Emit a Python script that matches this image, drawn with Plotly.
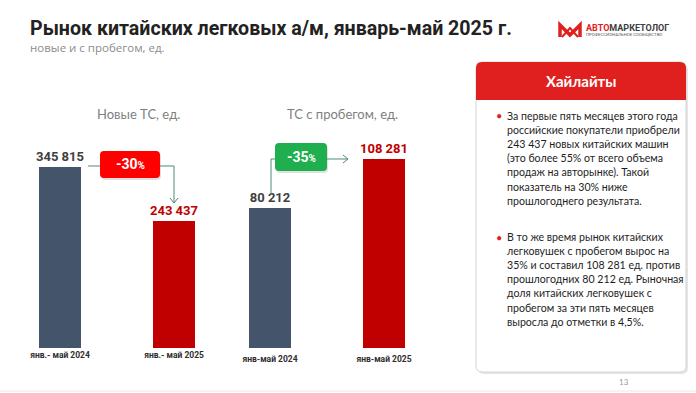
import plotly.graph_objects as go

W, H = 696, 393

# ---------------- data ----------------
cats_new = ["янв.- май 2024", "янв.- май 2025"]
vals_new = [345815, 243437]
cats_used = ["янв-май 2024", "янв-май 2025"]
vals_used = [80212, 108281]
change_labels = ["-30", "-35"]
panel_titles = ["Новые ТС, ед.", "ТС с пробегом, ед."]
title = "Рынок китайских легковых а/м, январь-май 2025 г."
subtitle = "новые и с пробегом, ед."
hl_title = "Хайлайты"
hl_par1 = ["За первые пять месяцев этого года",
           "российские покупатели приобрели",
           "243 437 новых китайских машин",
           "(это более 55% от всего объема",
           "продаж на авторынке). Такой",
           "показатель на 30% ниже",
           "прошлогоднего результата."]
hl_par2 = ["В то же время рынок китайских",
           "легковушек с пробегом вырос на",
           "35% и составил 108 281 ед. против",
           "прошлогодних 80 212 ед. Рыночная",
           "доля китайских легковушек с",
           "пробегом за эти пять месяцев",
           "выросла до отметки в 4,5%."]

# ---------------- styles ----------------
C_DARK = "#44546A"
C_RED = "#C00000"
LBL_COLORS = ["#404040", "#C00000"]
BADGE_RED = "#FF0000"
BADGE_GREEN = "#1FAF4F"
CONN = "#4E8A74"
HL_RED = "#E0201F"


def P(x, y):
    return x / W, 1 - y / H


def fx(x):
    return x / W


def fy(y):
    return 1 - y / H


def rrect(x0, y0, x1, y1, r, top_only=False):
    def pt(x, y):
        a, b = P(x, y)
        return f"{a:.5f},{b:.5f}"
    if top_only:
        return (f"M {pt(x0, y1)} L {pt(x0, y0 + r)} Q {pt(x0, y0)} {pt(x0 + r, y0)} "
                f"L {pt(x1 - r, y0)} Q {pt(x1, y0)} {pt(x1, y0 + r)} L {pt(x1, y1)} Z")
    return (f"M {pt(x0 + r, y0)} L {pt(x1 - r, y0)} Q {pt(x1, y0)} {pt(x1, y0 + r)} "
            f"L {pt(x1, y1 - r)} Q {pt(x1, y1)} {pt(x1 - r, y1)} L {pt(x0 + r, y1)} "
            f"Q {pt(x0, y1)} {pt(x0, y1 - r)} L {pt(x0, y0 + r)} Q {pt(x0, y0)} {pt(x0 + r, y0)} Z")


def poly(points):
    s = []
    for i, (x, y) in enumerate(points):
        a, b = P(x, y)
        s.append(("M " if i == 0 else "L ") + f"{a:.5f},{b:.5f}")
    return " ".join(s)


fig = go.Figure()

bar_w = 42 / 114
txt_font = dict(family="Roboto, Arial, sans-serif", size=13, color=LBL_COLORS)

fig.add_trace(go.Bar(
    x=[0, 1], y=vals_new, width=bar_w, marker=dict(color=[C_DARK, C_RED], line_width=0),
    texttemplate="<b>%{y:,}</b>", textposition="outside", textfont=txt_font,
    constraintext="none", cliponaxis=False, xaxis="x", yaxis="y", hoverinfo="skip"))
fig.add_trace(go.Bar(
    x=[0, 1], y=vals_used, width=bar_w, marker=dict(color=[C_DARK, C_RED], line_width=0),
    texttemplate="<b>%{y:,}</b>", textposition="outside", textfont=txt_font,
    constraintext="none", cliponaxis=False, xaxis="x2", yaxis="y2", hoverinfo="skip"))

ydom = [fy(348), fy(130)]
tickfont = dict(family="Roboto, Arial, sans-serif", size=8.5, color="#2E2E2E")
common_x = dict(range=[-0.377, 1.377], tickvals=[0, 1], showgrid=False, zeroline=False,
                showline=False, ticks="", tickfont=tickfont, automargin=False, fixedrange=True)

shapes = []
annos = []

# highlights box
shapes.append(dict(type="path", xref="paper", yref="paper", path=rrect(478, 64, 688, 374, 6),
                   fillcolor="rgba(0,0,0,0.10)", line=dict(width=0), layer="below"))
shapes.append(dict(type="path", xref="paper", yref="paper", path=rrect(476, 62, 686, 372, 6),
                   fillcolor="white", line=dict(color="#D4D4D4", width=1), layer="below"))
shapes.append(dict(type="path", xref="paper", yref="paper", path=rrect(476, 62, 686, 100, 6, top_only=True),
                   fillcolor=HL_RED, line=dict(width=0), layer="below"))

# badges
for (x0, y0, x1, y1, col) in [(100, 151, 160, 178, BADGE_RED), (275, 143, 327, 171, BADGE_GREEN)]:
    shapes.append(dict(type="path", xref="paper", yref="paper", path=rrect(x0 + 1, y0 + 2, x1 + 1, y1 + 2, 4),
                       fillcolor="rgba(0,0,0,0.12)", line=dict(width=0)))
    shapes.append(dict(type="path", xref="paper", yref="paper", path=rrect(x0, y0, x1, y1, 4),
                       fillcolor=col, line=dict(width=0)))

# connectors
conn_line = dict(color=CONN, width=1)
for pts in [[(88, 166), (100, 166)],
            [(160, 166), (174, 166), (174, 203)],
            [(170, 198), (174, 203), (178, 198)],
            [(271, 195), (271, 159), (275, 159)],
            [(327, 159), (348, 159)],
            [(343, 155), (348, 159), (343, 163)]]:
    shapes.append(dict(type="path", xref="paper", yref="paper", path=poly(pts), line=conn_line))

# logo icon (stylised M)
shapes.append(dict(type="path", xref="paper", yref="paper",
                   path=poly([(560, 37), (560, 25), (570, 35), (580, 25), (580, 37)]),
                   line=dict(color=HL_RED, width=3.5)))
shapes.append(dict(type="path", xref="paper", yref="paper",
                   path=poly([(562, 37), (570, 28), (578, 37)]),
                   line=dict(color=HL_RED, width=2)))

# bottom slide edge
shapes.append(dict(type="line", xref="paper", yref="paper", x0=0, x1=1, y0=fy(391), y1=fy(391),
                   line=dict(color="#E8E8E8", width=1)))

# title / subtitle
annos.append(dict(x=fx(28), y=fy(29), xref="paper", yref="paper", xanchor="left", yanchor="middle",
                  text=f"<b>{title}</b>", showarrow=False,
                  font=dict(family="Roboto, Arial, sans-serif", size=19.6, color="#222222")))
annos.append(dict(x=fx(28), y=fy(48), xref="paper", yref="paper", xanchor="left", yanchor="middle",
                  text=subtitle, showarrow=False,
                  font=dict(family="Open Sans, sans-serif", size=11.5, color="#8C8C8C")))

# logo text
annos.append(dict(x=fx(584), y=fy(28), xref="paper", yref="paper", xanchor="left", yanchor="middle",
                  text=f"<b><span style='color:{HL_RED}'>АВТО</span>МАРКЕТОЛОГ</b>", showarrow=False,
                  font=dict(family="Roboto, Arial, sans-serif", size=9, color="#404040")))
annos.append(dict(x=fx(584), y=fy(35), xref="paper", yref="paper", xanchor="left", yanchor="middle",
                  text="ПРОФЕССИОНАЛЬНОЕ СООБЩЕСТВО", showarrow=False,
                  font=dict(family="Roboto, Arial, sans-serif", size=4.3, color="#555555")))

# panel titles
for cx, t in zip([138, 342], panel_titles):
    annos.append(dict(x=fx(cx), y=fy(114), xref="paper", yref="paper", xanchor="center", yanchor="middle",
                      text=t, showarrow=False,
                      font=dict(family="Lato, sans-serif", size=13, color="#7F7F7F")))

# badge texts
for (cx, cy), lab in zip([(130, 164.5), (301, 157)], change_labels):
    annos.append(dict(x=fx(cx), y=fy(cy), xref="paper", yref="paper", xanchor="center", yanchor="middle",
                      text=f"<b>{lab}<span style='font-size:10px'>%</span></b>", showarrow=False,
                      font=dict(family="Roboto, Arial, sans-serif", size=14, color="white")))

# highlights
annos.append(dict(x=fx(581), y=fy(81), xref="paper", yref="paper", xanchor="center", yanchor="middle",
                  text=f"<b>{hl_title}</b>", showarrow=False,
                  font=dict(family="Lato, sans-serif", size=15, color="white")))
LINE_H = 14.1
for y_first, lines in [(116, hl_par1), (237, hl_par2)]:
    for i, ln in enumerate(lines):
        annos.append(dict(x=fx(505), y=fy(y_first + i * LINE_H), xref="paper", yref="paper",
                          xanchor="left", yanchor="middle", text=ln, showarrow=False,
                          font=dict(family="Lato, sans-serif", size=10.6, color="#1E1E1E")))
    annos.append(dict(x=fx(499), y=fy(y_first), xref="paper", yref="paper", xanchor="center", yanchor="middle",
                      text="•", showarrow=False,
                      font=dict(family="Lato, sans-serif", size=11, color=HL_RED)))

annos.append(dict(x=fx(624), y=fy(382), xref="paper", yref="paper", xanchor="center", yanchor="middle",
                  text="13", showarrow=False,
                  font=dict(family="Lato, sans-serif", size=8, color="#9A9A9A")))

fig.update_layout(
    width=W, height=H, margin=dict(l=0, r=0, t=0, b=0),
    paper_bgcolor="white", plot_bgcolor="white", showlegend=False,
    separators=", ", template="none", bargap=0,
    xaxis=dict(domain=[fx(17), fx(217)], anchor="y", ticktext=[f"<b>{c}</b>" for c in cats_new], **common_x),
    yaxis=dict(domain=ydom, range=[0, 416500], visible=False, fixedrange=True),
    xaxis2=dict(domain=[fx(227), fx(427)], anchor="y2", ticktext=[f"<b>{c}</b>" for c in cats_used],
                ticklabelstandoff=4, **common_x),
    yaxis2=dict(domain=ydom, range=[0, 124900], visible=False, fixedrange=True),
    shapes=shapes, annotations=annos,
)

fig.write_html("out.html", config={"displayModeBar": False},
               post_script="document.body.style.margin='0';document.body.style.overflow='hidden';")
